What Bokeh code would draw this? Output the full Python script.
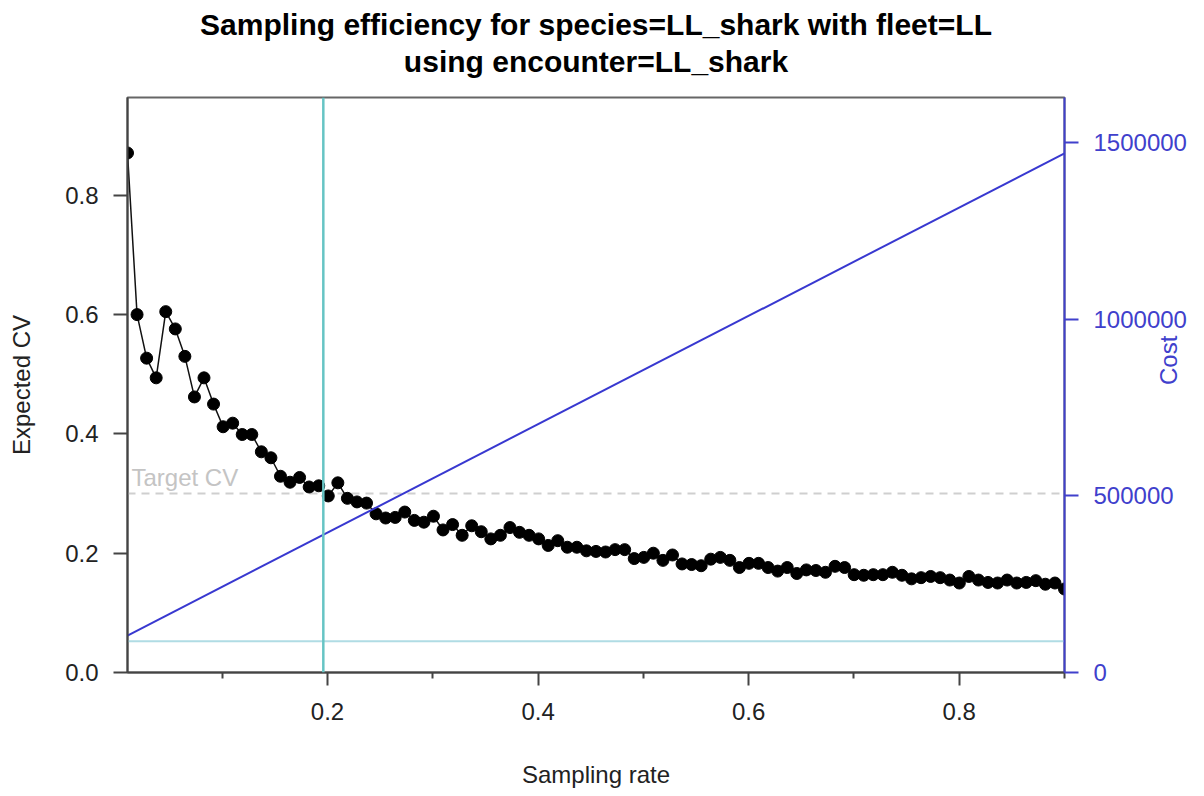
import math
import numpy as np
from bokeh.plotting import figure
from bokeh.models import (Range1d, LinearAxis, FixedTicker, Span, Title, Label)
from bokeh.embed import file_html
from bokeh.resources import INLINE

# ---------------- data ----------------
title_line1 = "Sampling efficiency for species=LL_shark with fleet=LL"
title_line2 = "using encounter=LL_shark"

rates = np.round(np.linspace(0.01, 0.9, 99), 5)
expected_cv = [
    0.871, 0.600, 0.527, 0.494, 0.605, 0.576, 0.530, 0.462, 0.494, 0.450,
    0.412, 0.418, 0.399, 0.399, 0.370, 0.360, 0.329, 0.319, 0.327, 0.311,
    0.313, 0.296, 0.318, 0.292, 0.286,
    0.284, 0.266, 0.259, 0.260, 0.269, 0.255, 0.252, 0.262, 0.239, 0.248,
    0.230, 0.246, 0.236, 0.224, 0.230, 0.243, 0.235, 0.230,
    0.224, 0.213, 0.221, 0.210, 0.210, 0.204, 0.203, 0.202, 0.206, 0.206,
    0.191, 0.193, 0.200, 0.188, 0.197, 0.182, 0.181, 0.179, 0.190, 0.193,
    0.188, 0.176, 0.183, 0.183, 0.176, 0.170, 0.176, 0.166, 0.172, 0.171,
    0.168, 0.178, 0.176, 0.164, 0.163, 0.164, 0.164, 0.168, 0.163, 0.157,
    0.159, 0.161, 0.159, 0.155, 0.150, 0.161, 0.155, 0.151, 0.150, 0.155,
    0.150, 0.151, 0.154, 0.148, 0.150, 0.140,
]
cost_rates = [0.01, 0.9]
cost_values = [104500, 1469000]
fixed_cost = 88400
target_cv = 0.3
chosen_rate = 0.196

x_major_ticks = [0.2, 0.4, 0.6, 0.8]
x_minor_ticks = [0.1, 0.3, 0.5, 0.7, 0.9]
cv_ticks = [0.0, 0.2, 0.4, 0.6, 0.8]
cv_tick_labels = ["0.0", "0.2", "0.4", "0.6", "0.8"]
cost_ticks = [0, 500000, 1000000, 1500000]
cost_tick_labels = ["0", "500000", "1000000", "1500000"]

FONT = "Liberation Sans"
BLUE = "#4040cc"

p = figure(width=1200, height=794, output_backend="svg", toolbar_location=None,
           x_range=Range1d(0.01, 0.9), y_range=Range1d(0, 0.964),
           min_border_left=127, min_border_right=136, min_border_top=97,
           min_border_bottom=122)
p.grid.visible = False
p.outline_line_color = "#666666"
p.outline_line_width = 2
p.background_fill_color = "white"
p.border_fill_color = "white"

# titles (added innermost first)
p.add_layout(Title(text=title_line2, align="center", vertical_align="top",
                   text_font=FONT, text_font_size="30px", text_font_style="bold",
                   text_color="black", standoff=36), "above")
p.add_layout(Title(text=title_line1, align="center", vertical_align="bottom",
                   text_font=FONT, text_font_size="30px", text_font_style="bold",
                   text_color="black", standoff=-28), "above")

# axes styling
def style_axis(ax, color="#222222"):
    ax.axis_label_text_font = FONT
    ax.axis_label_text_font_size = "24px"
    ax.axis_label_text_font_style = "normal"
    ax.axis_label_text_color = color
    ax.major_label_text_font = FONT
    ax.major_label_text_font_size = "24px"
    ax.major_label_text_color = color
    ax.axis_line_width = 2
    ax.major_tick_line_width = 2
    ax.minor_tick_line_width = 2
    ax.major_tick_in = 0
    ax.minor_tick_in = 0

xa = p.xaxis[0]
style_axis(xa)
xa.ticker = FixedTicker(ticks=x_major_ticks, minor_ticks=x_minor_ticks)
xa.axis_label = "Sampling rate"
xa.major_tick_out = 13
xa.minor_tick_out = 6
xa.major_label_standoff = 17
xa.axis_label_standoff = 38
xa.axis_line_color = "#444444"
xa.major_tick_line_color = "#444444"
xa.minor_tick_line_color = "#444444"

ya = p.yaxis[0]
style_axis(ya)
ya.ticker = FixedTicker(ticks=cv_ticks)
ya.major_label_overrides = {t: l for t, l in zip(cv_ticks, cv_tick_labels)}
ya.axis_label = "Expected CV"
ya.major_tick_out = 14
ya.major_label_standoff = 15
ya.axis_label_standoff = 27
ya.axis_line_color = "#444444"
ya.major_tick_line_color = "#444444"

# right cost axis
p.extra_y_ranges = {"cost": Range1d(0, 1627000)}
ra = LinearAxis(y_range_name="cost")
style_axis(ra, BLUE)
ra.ticker = FixedTicker(ticks=cost_ticks)
ra.major_label_overrides = {t: l for t, l in zip(cost_ticks, cost_tick_labels)}
ra.axis_label = "Cost"
if "axis_label_orientation" in ra.properties():
    ra.axis_label_orientation = math.pi / 2
ra.axis_line_color = BLUE
ra.major_tick_line_color = BLUE
ra.major_tick_out = 14
ra.major_label_standoff = 15
ra.axis_label_standoff = -21
p.add_layout(ra, "right")

# reference lines
p.line(x=cost_rates, y=[fixed_cost, fixed_cost], y_range_name="cost",
       line_color="#b0dce4", line_width=2)
p.add_layout(Span(location=target_cv, dimension="width", line_color="#cfcfcf",
                  line_width=2, line_dash="8 6", level="underlay"))

# CV series
p.line(x=rates, y=expected_cv, line_color="#111111", line_width=1.5)
p.scatter(x=rates, y=expected_cv, size=12, fill_color="black",
          line_color="black", marker="circle")

p.add_layout(Span(location=chosen_rate, dimension="height", line_color="#66c4c4",
                  line_width=2.5))

# cost line
p.line(x=cost_rates, y=cost_values, y_range_name="cost", line_color="#3838d0",
       line_width=2)

p.add_layout(Label(x=rates[0], y=target_cv, text="Target CV", text_font=FONT,
                   text_font_size="24px", text_color="#c4c4c4",
                   text_baseline="bottom", x_offset=4, y_offset=3))

open("out.html", "w").write(file_html(p, INLINE))
